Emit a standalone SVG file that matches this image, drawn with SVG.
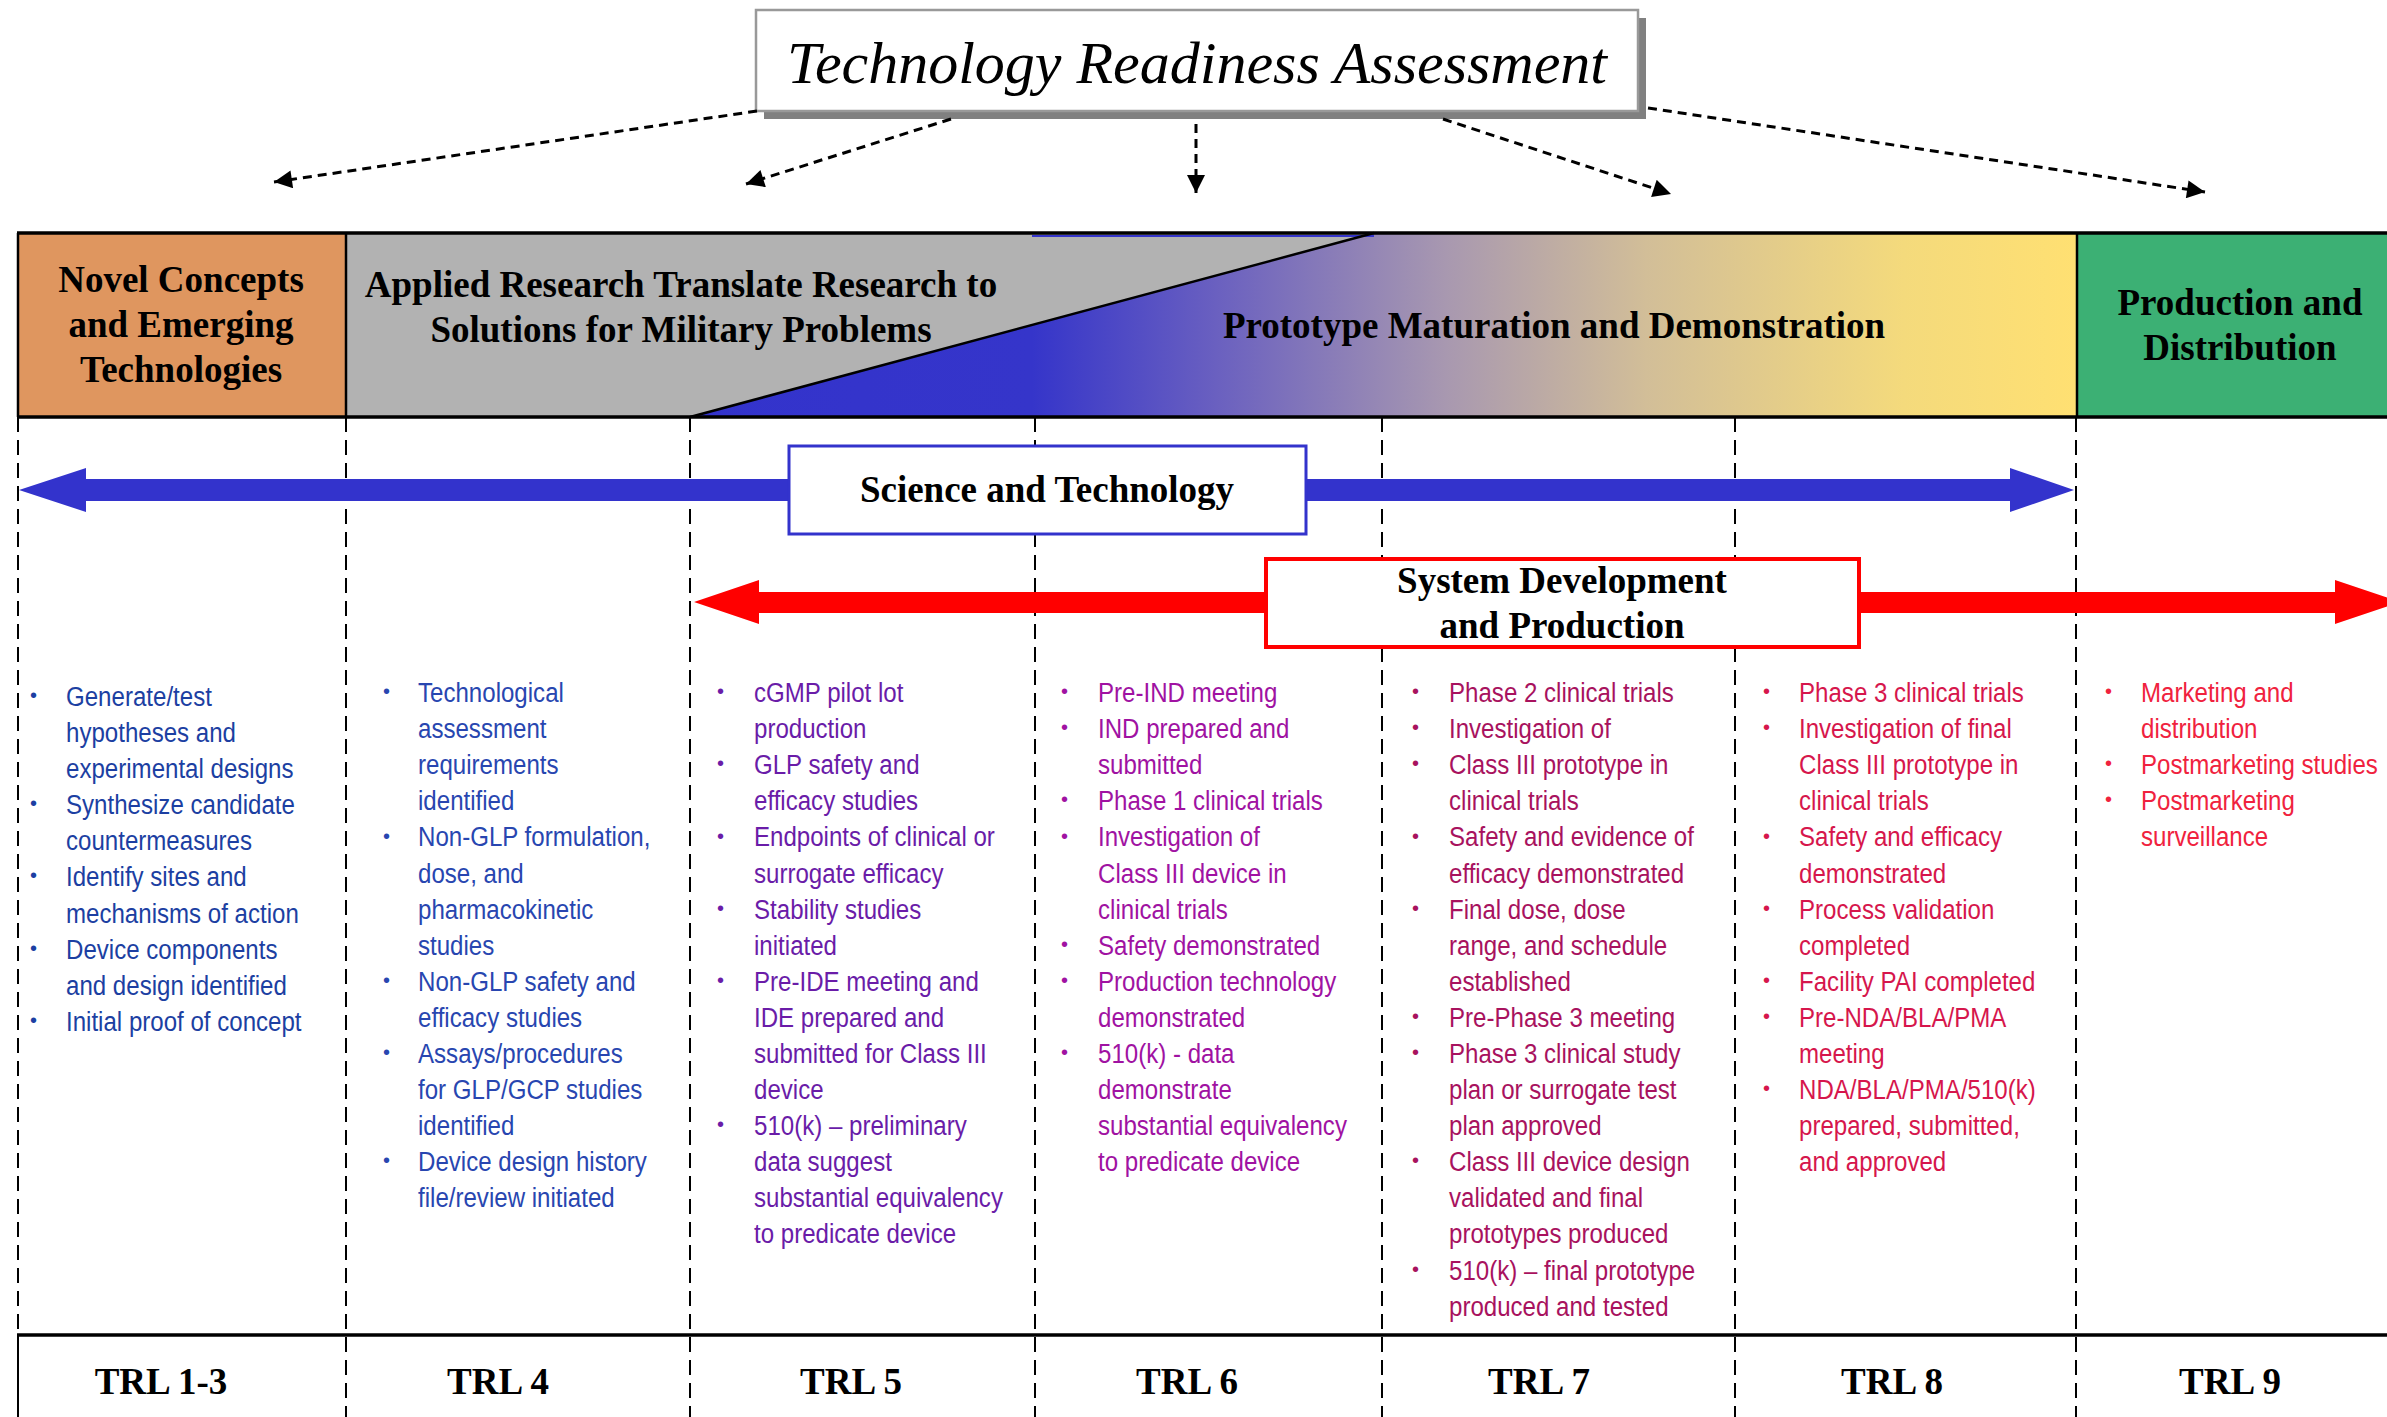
<svg xmlns="http://www.w3.org/2000/svg" width="2387" height="1417" viewBox="0 0 2387 1417">
<defs>
<linearGradient id="grad" gradientUnits="userSpaceOnUse" x1="689" y1="0" x2="2077" y2="0">
<stop offset="0" stop-color="#3333CC"/>
<stop offset="0.247" stop-color="#3535CA"/>
<stop offset="0.38" stop-color="#6A60C0"/>
<stop offset="0.545" stop-color="#A898B0"/>
<stop offset="0.69" stop-color="#D2BE98"/>
<stop offset="0.875" stop-color="#F4DA7C"/>
<stop offset="1" stop-color="#FFE072"/>
</linearGradient>
<marker id="ah" viewBox="0 0 10 10" refX="10" refY="5" markerWidth="24" markerHeight="18" markerUnits="userSpaceOnUse" orient="auto">
<path d="M0,0 L10,5 L0,10 z" fill="#000"/>
</marker>
</defs>
<style>
.hd{font-family:"Liberation Serif","Times New Roman",serif;font-weight:bold;font-size:37px;fill:#000;text-anchor:middle}
.trl{font-family:"Liberation Serif","Times New Roman",serif;font-weight:bold;font-size:37px;fill:#000;text-anchor:middle}
.lst{font-family:"Liberation Sans","Arial",sans-serif;font-size:28px}
.bul{font-family:"Liberation Sans","Arial",sans-serif;font-size:20px}
.vd{stroke:#000;stroke-width:2;stroke-dasharray:15 8;fill:none}
.conn{stroke:#000;stroke-width:3;stroke-dasharray:9 6;fill:none;marker-end:url(#ah)}
.c1{fill:#1C3FA2}.c2{fill:#2846B0}.c3{fill:#6A1CA8}.c4{fill:#A012A2}.c5{fill:#A8125E}.c6{fill:#D6164C}.c7{fill:#F0223E}
</style>

<g id="column-dividers">
<line class="vd" x1="18" y1="417" x2="18" y2="1335"/>
<line class="vd" x1="346" y1="417" x2="346" y2="1417"/>
<line class="vd" x1="690" y1="417" x2="690" y2="1417"/>
<line class="vd" x1="1035" y1="417" x2="1035" y2="1417"/>
<line class="vd" x1="1382" y1="417" x2="1382" y2="1417"/>
<line class="vd" x1="1735" y1="417" x2="1735" y2="1417"/>
<line class="vd" x1="2076" y1="417" x2="2076" y2="1417"/>
<line x1="18" y1="1335" x2="18" y2="1417" stroke="#000" stroke-width="2"/>
<line x1="17" y1="1335" x2="2387" y2="1335" stroke="#000" stroke-width="3.5"/>
</g>

<g id="phase-band">
<rect x="18" y="233" width="328" height="184" fill="#DF965F"/>
<polygon points="346,233 1374,233 690,417 346,417" fill="#B2B2B2"/>
<polygon points="690,417 1374,233 2077,233 2077,417" fill="url(#grad)"/>
<rect x="2077" y="233" width="320" height="184" fill="#3CB074"/>
<line x1="1032" y1="236" x2="1374" y2="236" stroke="#3535CA" stroke-width="2"/>
<line x1="690" y1="417" x2="1374" y2="233" stroke="#000" stroke-width="2.5"/>
<line x1="346" y1="233" x2="346" y2="417" stroke="#000" stroke-width="2.5"/>
<line x1="2077" y1="233" x2="2077" y2="417" stroke="#000" stroke-width="2.5"/>
<line x1="18" y1="233" x2="18" y2="417" stroke="#000" stroke-width="2.5"/>
<line x1="17" y1="233" x2="2387" y2="233" stroke="#000" stroke-width="3.5"/>
<line x1="17" y1="417" x2="2387" y2="417" stroke="#000" stroke-width="3.5"/>
</g>
<g id="node-novel">
<text class="hd" x="181" y="292">Novel Concepts</text>
<text class="hd" x="181" y="337">and Emerging</text>
<text class="hd" x="181" y="382">Technologies</text>
</g>
<g id="node-applied">
<text class="hd" x="681" y="297">Applied Research Translate Research to</text>
<text class="hd" x="681" y="342">Solutions for Military Problems</text>
</g>
<g id="node-prototype">
<text class="hd" x="1554" y="338">Prototype Maturation and Demonstration</text>
</g>
<g id="node-production">
<text class="hd" x="2240" y="315">Production and</text>
<text class="hd" x="2240" y="360">Distribution</text>
</g>

<g id="node-title">
<rect x="764" y="18" width="882" height="101" fill="#808080"/>
<rect x="756" y="10" width="882" height="101" fill="#fff" stroke="#999" stroke-width="2.5"/>
<text x="1197" y="83" font-family="'Liberation Serif','Times New Roman',serif" font-style="italic" font-size="60" text-anchor="middle" fill="#000">Technology Readiness Assessment</text>
</g>

<g id="connectors">
<line class="conn" x1="757" y1="111" x2="274" y2="182"/>
<line class="conn" x1="951" y1="119" x2="746" y2="184"/>
<line class="conn" x1="1196" y1="124" x2="1196" y2="193"/>
<line class="conn" x1="1443" y1="119" x2="1671" y2="194"/>
<line class="conn" x1="1648" y1="108" x2="2205" y2="192"/>
<polygon points="19,490 86,468 86,479 2010,479 2010,468 2074,490 2010,512 2010,501 86,501 86,512" fill="#3333CC"/>
<polygon points="694,602 759,580 759,592 2335,592 2335,580 2400,602 2335,624 2335,613 759,613 759,624" fill="#FF0000"/>
</g>

<g id="node-st">
<rect x="789" y="446" width="517" height="88" fill="#fff" stroke="#3333CC" stroke-width="3"/>
<text class="hd" x="1047" y="502">Science and Technology</text>
</g>
<g id="node-sdp">
<rect x="1266" y="559" width="593" height="88" fill="#fff" stroke="#FF0000" stroke-width="4"/>
<text class="hd" x="1562" y="593">System Development</text>
<text class="hd" x="1562" y="638">and Production</text>
</g>

<g id="bullets">
<g class="bul c1"><text x="30" y="702">•</text><text x="30" y="810">•</text><text x="30" y="882">•</text><text x="30" y="955">•</text><text x="30" y="1027">•</text></g>
<g class="bul c2"><text x="383" y="698">•</text><text x="383" y="843">•</text><text x="383" y="987">•</text><text x="383" y="1059">•</text><text x="383" y="1167">•</text></g>
<g class="bul c3"><text x="717" y="698">•</text><text x="717" y="770">•</text><text x="717" y="843">•</text><text x="717" y="915">•</text><text x="717" y="987">•</text><text x="717" y="1131">•</text></g>
<g class="bul c4"><text x="1061" y="698">•</text><text x="1061" y="734">•</text><text x="1061" y="806">•</text><text x="1061" y="843">•</text><text x="1061" y="951">•</text><text x="1061" y="987">•</text><text x="1061" y="1059">•</text></g>
<g class="bul c5"><text x="1412" y="698">•</text><text x="1412" y="734">•</text><text x="1412" y="770">•</text><text x="1412" y="843">•</text><text x="1412" y="915">•</text><text x="1412" y="1023">•</text><text x="1412" y="1059">•</text><text x="1412" y="1167">•</text><text x="1412" y="1276">•</text></g>
<g class="bul c6"><text x="1763" y="698">•</text><text x="1763" y="734">•</text><text x="1763" y="843">•</text><text x="1763" y="915">•</text><text x="1763" y="987">•</text><text x="1763" y="1023">•</text><text x="1763" y="1095">•</text></g>
<g class="bul c7"><text x="2105" y="698">•</text><text x="2105" y="770">•</text><text x="2105" y="806">•</text></g>
</g>

<g id="col-trl1-3" class="lst c1" transform="translate(66,0) scale(0.86,1)">
<text x="0" y="706">Generate/test</text>
<text x="0" y="742">hypotheses and</text>
<text x="0" y="778">experimental designs</text>
<text x="0" y="814">Synthesize candidate</text>
<text x="0" y="850">countermeasures</text>
<text x="0" y="886">Identify sites and</text>
<text x="0" y="923">mechanisms of action</text>
<text x="0" y="959">Device components</text>
<text x="0" y="995">and design identified</text>
<text x="0" y="1031">Initial proof of concept</text>
</g>

<g id="col-trl4" class="lst c2" transform="translate(418,0) scale(0.86,1)">
<text x="0" y="702">Technological</text>
<text x="0" y="738">assessment</text>
<text x="0" y="774">requirements</text>
<text x="0" y="810">identified</text>
<text x="0" y="846">Non-GLP formulation,</text>
<text x="0" y="883">dose, and</text>
<text x="0" y="919">pharmacokinetic</text>
<text x="0" y="955">studies</text>
<text x="0" y="991">Non-GLP safety and</text>
<text x="0" y="1027">efficacy studies</text>
<text x="0" y="1063">Assays/procedures</text>
<text x="0" y="1099">for GLP/GCP studies</text>
<text x="0" y="1135">identified</text>
<text x="0" y="1171">Device design history</text>
<text x="0" y="1207">file/review initiated</text>
</g>

<g id="col-trl5" class="lst c3" transform="translate(754,0) scale(0.86,1)">
<text x="0" y="702">cGMP pilot lot</text>
<text x="0" y="738">production</text>
<text x="0" y="774">GLP safety and</text>
<text x="0" y="810">efficacy studies</text>
<text x="0" y="846">Endpoints of clinical or</text>
<text x="0" y="883">surrogate efficacy</text>
<text x="0" y="919">Stability studies</text>
<text x="0" y="955">initiated</text>
<text x="0" y="991">Pre-IDE meeting and</text>
<text x="0" y="1027">IDE prepared and</text>
<text x="0" y="1063">submitted for Class III</text>
<text x="0" y="1099">device</text>
<text x="0" y="1135">510(k) – preliminary</text>
<text x="0" y="1171">data suggest</text>
<text x="0" y="1207">substantial equivalency</text>
<text x="0" y="1243">to predicate device</text>
</g>

<g id="col-trl6" class="lst c4" transform="translate(1098,0) scale(0.86,1)">
<text x="0" y="702">Pre-IND meeting</text>
<text x="0" y="738">IND prepared and</text>
<text x="0" y="774">submitted</text>
<text x="0" y="810">Phase 1 clinical trials</text>
<text x="0" y="846">Investigation of</text>
<text x="0" y="883">Class III device in</text>
<text x="0" y="919">clinical trials</text>
<text x="0" y="955">Safety demonstrated</text>
<text x="0" y="991">Production technology</text>
<text x="0" y="1027">demonstrated</text>
<text x="0" y="1063">510(k) - data</text>
<text x="0" y="1099">demonstrate</text>
<text x="0" y="1135">substantial equivalency</text>
<text x="0" y="1171">to predicate device</text>
</g>

<g id="col-trl7" class="lst c5" transform="translate(1449,0) scale(0.86,1)">
<text x="0" y="702">Phase 2 clinical trials</text>
<text x="0" y="738">Investigation of</text>
<text x="0" y="774">Class III prototype in</text>
<text x="0" y="810">clinical trials</text>
<text x="0" y="846">Safety and evidence of</text>
<text x="0" y="883">efficacy demonstrated</text>
<text x="0" y="919">Final dose, dose</text>
<text x="0" y="955">range, and schedule</text>
<text x="0" y="991">established</text>
<text x="0" y="1027">Pre-Phase 3 meeting</text>
<text x="0" y="1063">Phase 3 clinical study</text>
<text x="0" y="1099">plan or surrogate test</text>
<text x="0" y="1135">plan approved</text>
<text x="0" y="1171">Class III device design</text>
<text x="0" y="1207">validated and final</text>
<text x="0" y="1243">prototypes produced</text>
<text x="0" y="1280">510(k) – final prototype</text>
<text x="0" y="1316">produced and tested</text>
</g>

<g id="col-trl8" class="lst c6" transform="translate(1799,0) scale(0.86,1)">
<text x="0" y="702">Phase 3 clinical trials</text>
<text x="0" y="738">Investigation of final</text>
<text x="0" y="774">Class III prototype in</text>
<text x="0" y="810">clinical trials</text>
<text x="0" y="846">Safety and efficacy</text>
<text x="0" y="883">demonstrated</text>
<text x="0" y="919">Process validation</text>
<text x="0" y="955">completed</text>
<text x="0" y="991">Facility PAI completed</text>
<text x="0" y="1027">Pre-NDA/BLA/PMA</text>
<text x="0" y="1063">meeting</text>
<text x="0" y="1099">NDA/BLA/PMA/510(k)</text>
<text x="0" y="1135">prepared, submitted,</text>
<text x="0" y="1171">and approved</text>
</g>

<g id="col-trl9" class="lst c7" transform="translate(2141,0) scale(0.86,1)">
<text x="0" y="702">Marketing and</text>
<text x="0" y="738">distribution</text>
<text x="0" y="774">Postmarketing studies</text>
<text x="0" y="810">Postmarketing</text>
<text x="0" y="846">surveillance</text>
</g>

<g id="trl-labels">
<text class="trl" x="161" y="1394">TRL 1-3</text>
<text class="trl" x="498" y="1394">TRL 4</text>
<text class="trl" x="851" y="1394">TRL 5</text>
<text class="trl" x="1187" y="1394">TRL 6</text>
<text class="trl" x="1539" y="1394">TRL 7</text>
<text class="trl" x="1892" y="1394">TRL 8</text>
<text class="trl" x="2230" y="1394">TRL 9</text>
</g>
</svg>
